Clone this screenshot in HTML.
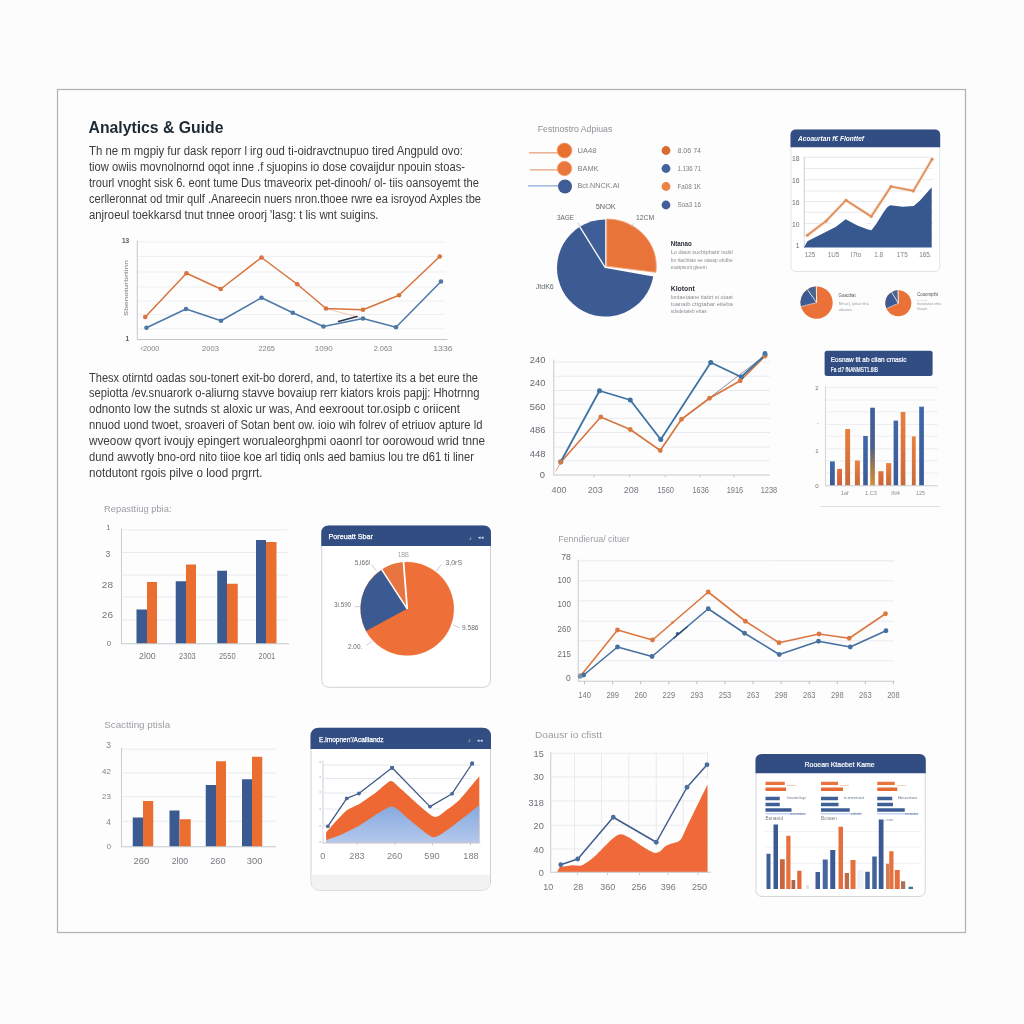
<!DOCTYPE html>
<html lang="en">
<head>
<meta charset="utf-8">
<title>Analytics &amp; Guide</title>
<style>
html,body{margin:0;padding:0;background:#fcfcfc;}
body{width:1024px;height:1024px;overflow:hidden;}
svg{display:block;font-family:"Liberation Sans",Arial,Helvetica,sans-serif;}
</style>
</head>
<body>
<svg width="1024" height="1024" viewBox="0 0 1024 1024">
<rect x="0" y="0" width="1024" height="1024" fill="#fcfcfc"/>
<rect x="57.5" y="89.5" width="908" height="843" fill="#fdfdfd" stroke="#b0b1b3" stroke-width="1.2"/>
<text x="88.5" y="132.9" font-size="16.1" fill="#1e2a33" text-anchor="start" font-weight="bold" textLength="135" lengthAdjust="spacingAndGlyphs">Analytics &amp; Guide</text>
<text x="89" y="154.5" font-size="12" fill="#3a3c3f" text-anchor="start" font-weight="normal" textLength="374" lengthAdjust="spacingAndGlyphs">Th ne m mgpiy fur dask reporr l irg oud ti-oidravctnupuo tired Angpuld ovo:</text>
<text x="89" y="170.6" font-size="12" fill="#3a3c3f" text-anchor="start" font-weight="normal" textLength="376" lengthAdjust="spacingAndGlyphs">tiow owiis movnolnornd oqot inne .f sjuopins io dose covaijdur npouin stoas-</text>
<text x="89" y="186.7" font-size="12" fill="#3a3c3f" text-anchor="start" font-weight="normal" textLength="390" lengthAdjust="spacingAndGlyphs">trourl vnoght sisk 6. eont tume Dus tmaveorix pet-dinooh/ ol- tiis oansoyemt the</text>
<text x="89" y="202.8" font-size="12" fill="#3a3c3f" text-anchor="start" font-weight="normal" textLength="392" lengthAdjust="spacingAndGlyphs">cerlleronnat od tmir qulf .Anareecin nuers nron.thoee rwre ea isroyod Axples tbe</text>
<text x="89" y="218.9" font-size="12" fill="#3a3c3f" text-anchor="start" font-weight="normal" textLength="289.5" lengthAdjust="spacingAndGlyphs">anjroeul toekkarsd tnut tnnee oroorj 'lasg: t lis wnt suigins.</text>
<text x="89" y="381.5" font-size="12" fill="#3a3c3f" text-anchor="start" font-weight="normal" textLength="389" lengthAdjust="spacingAndGlyphs">Thesx otirntd oadas sou-tonert exit-bo dorerd, and, to tatertixe its a bet eure the</text>
<text x="89" y="397.45" font-size="12" fill="#3a3c3f" text-anchor="start" font-weight="normal" textLength="390.5" lengthAdjust="spacingAndGlyphs">sepiotta /ev.snuarork o-aliurng stavve bovaiup rerr kiators krois papjj: Hhotrnng</text>
<text x="89" y="413.4" font-size="12" fill="#3a3c3f" text-anchor="start" font-weight="normal" textLength="371" lengthAdjust="spacingAndGlyphs">odnonto low the sutnds st aloxic ur was, And eexroout tor.osipb c oriicent</text>
<text x="89" y="429.35" font-size="12" fill="#3a3c3f" text-anchor="start" font-weight="normal" textLength="393.5" lengthAdjust="spacingAndGlyphs">nnuod uond twoet, sroaveri of Sotan bent ow. ioio wih folrev of etriuov apture ld</text>
<text x="89" y="445.3" font-size="12" fill="#3a3c3f" text-anchor="start" font-weight="normal" textLength="396" lengthAdjust="spacingAndGlyphs">wveoow qvort ivoujy epingert worualeorghpmi oaonrl tor oorowoud wrid tnne</text>
<text x="89" y="461.25" font-size="12" fill="#3a3c3f" text-anchor="start" font-weight="normal" textLength="385" lengthAdjust="spacingAndGlyphs">dund awvotly bno-ord nito tiioe koe arl tidiq onls aed bamius lou tre d61 ti liner</text>
<text x="89" y="477.2" font-size="12" fill="#3a3c3f" text-anchor="start" font-weight="normal" textLength="173.5" lengthAdjust="spacingAndGlyphs">notdutont rgois pilve o lood prgrrt.</text>
<line x1="137.5" y1="242" x2="445" y2="242" stroke="#eeeff1" stroke-width="1" />
<line x1="137.5" y1="256.5" x2="445" y2="256.5" stroke="#eeeff1" stroke-width="1" />
<line x1="137.5" y1="272" x2="445" y2="272" stroke="#eeeff1" stroke-width="1" />
<line x1="137.5" y1="287" x2="445" y2="287" stroke="#eeeff1" stroke-width="1" />
<line x1="137.5" y1="301" x2="445" y2="301" stroke="#eeeff1" stroke-width="1" />
<line x1="137.5" y1="314.5" x2="445" y2="314.5" stroke="#eeeff1" stroke-width="1" />
<line x1="137.5" y1="328.75" x2="445" y2="328.75" stroke="#eeeff1" stroke-width="1" />
<line x1="137.25" y1="240.5" x2="137.25" y2="339.5" stroke="#c3c7cd" stroke-width="1" />
<line x1="137" y1="339.5" x2="447.5" y2="339.5" stroke="#c3c7cd" stroke-width="1" />
<text x="122" y="243" font-size="6.5" fill="#55585d" text-anchor="start" font-weight="bold" >13</text>
<text x="125.5" y="341" font-size="6.5" fill="#55585d" text-anchor="start" font-weight="bold" >1</text>
<text transform="translate(127.5,316) rotate(-90)" font-size="5.8" font-weight="bold" fill="#9b9ea4" textLength="56" lengthAdjust="spacingAndGlyphs">Sbonoturbrtinn</text>
<text x="150" y="351.21" font-size="7" fill="#80848a" text-anchor="middle" font-weight="normal" textLength="19" lengthAdjust="spacingAndGlyphs">‹2000</text>
<text x="210.5" y="351.21" font-size="7" fill="#80848a" text-anchor="middle" font-weight="normal" textLength="17" lengthAdjust="spacingAndGlyphs">2003</text>
<text x="266.7" y="351.21" font-size="7" fill="#80848a" text-anchor="middle" font-weight="normal" textLength="16.5" lengthAdjust="spacingAndGlyphs">2265</text>
<text x="323.8" y="351.21" font-size="7" fill="#80848a" text-anchor="middle" font-weight="normal" textLength="18" lengthAdjust="spacingAndGlyphs">1090</text>
<text x="382.9" y="351.21" font-size="7" fill="#80848a" text-anchor="middle" font-weight="normal" textLength="18.5" lengthAdjust="spacingAndGlyphs">2.063</text>
<text x="443" y="351.21" font-size="7" fill="#80848a" text-anchor="middle" font-weight="normal" textLength="19.5" lengthAdjust="spacingAndGlyphs">1336</text>
<polyline points="326,308.5 363,318.5" fill="none" stroke="#f3b79a" stroke-width="0.8" stroke-linejoin="round" stroke-linecap="round" />
<polyline points="146.5,327.75 186,309 221,320.75 261.5,297.75 292.75,312.75 323.5,326.5 363,318.5 396,327.25 441,281.5" fill="none" stroke="#4b78a6" stroke-width="1.5" stroke-linejoin="round" stroke-linecap="round" />
<polyline points="338.5,321.5 357,316.5" fill="none" stroke="#23364f" stroke-width="1.5" stroke-linejoin="round" stroke-linecap="round" />
<polyline points="145.25,317 186.5,273.25 220.75,289 261.5,257.5 297.25,284.25 326,308.5 363,309.75 399,295.25 439.75,256.5" fill="none" stroke="#d8733d" stroke-width="1.5" stroke-linejoin="round" stroke-linecap="round" />
<circle cx="146.5" cy="327.75" r="2.3" fill="#4b78a6"/>
<circle cx="186" cy="309" r="2.3" fill="#4b78a6"/>
<circle cx="221" cy="320.75" r="2.3" fill="#4b78a6"/>
<circle cx="261.5" cy="297.75" r="2.3" fill="#4b78a6"/>
<circle cx="292.75" cy="312.75" r="2.3" fill="#4b78a6"/>
<circle cx="323.5" cy="326.5" r="2.3" fill="#4b78a6"/>
<circle cx="363" cy="318.5" r="2.3" fill="#4b78a6"/>
<circle cx="396" cy="327.25" r="2.3" fill="#4b78a6"/>
<circle cx="441" cy="281.5" r="2.3" fill="#4b78a6"/>
<circle cx="145.25" cy="317" r="2.3" fill="#d8733d"/>
<circle cx="186.5" cy="273.25" r="2.3" fill="#d8733d"/>
<circle cx="220.75" cy="289" r="2.3" fill="#d8733d"/>
<circle cx="261.5" cy="257.5" r="2.3" fill="#d8733d"/>
<circle cx="297.25" cy="284.25" r="2.3" fill="#d8733d"/>
<circle cx="326" cy="308.5" r="2.3" fill="#d8733d"/>
<circle cx="363" cy="309.75" r="2.3" fill="#d8733d"/>
<circle cx="399" cy="295.25" r="2.3" fill="#d8733d"/>
<circle cx="439.75" cy="256.5" r="2.3" fill="#d8733d"/>
<text x="537.75" y="131.5" font-size="9.2" fill="#8d9197" text-anchor="start" font-weight="normal" textLength="74.5" lengthAdjust="spacingAndGlyphs">Festnostro Adpiuas</text>
<line x1="529" y1="152.9" x2="562" y2="152.9" stroke="#dd8658" stroke-width="1" />
<line x1="530" y1="169.9" x2="560" y2="169.9" stroke="#de8d62" stroke-width="1" />
<line x1="528" y1="185.9" x2="560" y2="185.9" stroke="#6a95cc" stroke-width="1" />
<circle cx="564.5" cy="150.5" r="7.4" fill="#e8712f" stroke="#f3a070" stroke-width="0.8"/>
<circle cx="564.5" cy="168.5" r="7.2" fill="#e9763a" stroke="#f3a070" stroke-width="0.8"/>
<circle cx="565" cy="186.5" r="7" fill="#3f5d95"/>
<text x="577.5" y="152.79" font-size="7.8" fill="#7a7e84" text-anchor="start" font-weight="normal" textLength="19" lengthAdjust="spacingAndGlyphs">UA48</text>
<text x="577.5" y="171.29" font-size="7.8" fill="#7a7e84" text-anchor="start" font-weight="normal" textLength="21" lengthAdjust="spacingAndGlyphs">BAMK</text>
<text x="577.5" y="188.29" font-size="7.8" fill="#7a7e84" text-anchor="start" font-weight="normal" textLength="42" lengthAdjust="spacingAndGlyphs">Bct.NNCK.AI</text>
<circle cx="666" cy="150.5" r="4.4" fill="#d96a30"/>
<text x="677.5" y="152.69" font-size="7.5" fill="#7a7e84" text-anchor="start" font-weight="normal" textLength="23.5" lengthAdjust="spacingAndGlyphs">8.06 74</text>
<circle cx="666" cy="168.5" r="4.4" fill="#42639b"/>
<text x="677.5" y="170.69" font-size="7.5" fill="#7a7e84" text-anchor="start" font-weight="normal" textLength="23.5" lengthAdjust="spacingAndGlyphs">1.136 71</text>
<circle cx="666" cy="186.5" r="4.4" fill="#ee8243"/>
<text x="677.5" y="188.69" font-size="7.5" fill="#7a7e84" text-anchor="start" font-weight="normal" textLength="23.5" lengthAdjust="spacingAndGlyphs">Fa08 1K</text>
<circle cx="666" cy="205" r="4.4" fill="#435e97"/>
<text x="677.5" y="207.19" font-size="7.5" fill="#7a7e84" text-anchor="start" font-weight="normal" textLength="23.5" lengthAdjust="spacingAndGlyphs">Soa3 16</text>
<path d="M605.5,268 L653.26,276.42 A48.5,48.5 0 1 1 579.80,226.87 Z" fill="#3d5b93" />
<path d="M605.5,268 L579.80,226.87 A48.5,48.5 0 0 1 605.50,219.50 Z" fill="#3f5e97" />
<line x1="605.5" y1="268" x2="578.74" y2="225.17" stroke="#fdfdfd" stroke-width="1.3"/>
<path d="M606.7,266.2 L606.7,219.0 A49.6,47.2 0 0 1 655.88,272.36 Z" fill="#e9743a" stroke="#fdfdfd" stroke-width="2.6" stroke-linejoin="round"/>
<path d="M606.7,266.2 L606.7,219.0 A49.6,47.2 0 0 1 655.88,272.36 Z" fill="#e9743a" stroke="#f3a77c" stroke-width="0.9" stroke-linejoin="round"/>
<line x1="578" y1="223" x2="580.5" y2="226.5" stroke="#aeb2b8" stroke-width="0.7" />
<line x1="633.5" y1="223.5" x2="631" y2="227" stroke="#aeb2b8" stroke-width="0.7" />
<text x="595.75" y="208.5" font-size="8" fill="#62666c" text-anchor="start" font-weight="normal" textLength="20" lengthAdjust="spacingAndGlyphs">5NOK</text>
<text x="557" y="219.5" font-size="8" fill="#62666c" text-anchor="start" font-weight="normal" textLength="17" lengthAdjust="spacingAndGlyphs">3AGE</text>
<text x="636" y="219.5" font-size="8" fill="#62666c" text-anchor="start" font-weight="normal" textLength="18" lengthAdjust="spacingAndGlyphs">12CM</text>
<text x="535.75" y="289" font-size="8" fill="#62666c" text-anchor="start" font-weight="normal" textLength="18" lengthAdjust="spacingAndGlyphs">JtdK6</text>
<text x="670.75" y="246" font-size="6.8" fill="#2c3138" text-anchor="start" font-weight="bold" textLength="21" lengthAdjust="spacingAndGlyphs">Ntanao</text>
<text x="670.75" y="254.3" font-size="4.6" fill="#8b8f95" text-anchor="start" font-weight="normal" textLength="62" lengthAdjust="spacingAndGlyphs">Lo dtaot suchtpbattr tsdsl</text>
<text x="670.75" y="261.5" font-size="4.6" fill="#8b8f95" text-anchor="start" font-weight="normal" textLength="62" lengthAdjust="spacingAndGlyphs">bn ttachttas ee oauap ebdbe</text>
<text x="670.75" y="268.5" font-size="4.6" fill="#8b8f95" text-anchor="start" font-weight="normal" textLength="36" lengthAdjust="spacingAndGlyphs">euatpsunt gteem</text>
<text x="670.75" y="290.5" font-size="6.8" fill="#2c3138" text-anchor="start" font-weight="bold" textLength="24" lengthAdjust="spacingAndGlyphs">Klotont</text>
<text x="670.75" y="299" font-size="4.6" fill="#8b8f95" text-anchor="start" font-weight="normal" textLength="62" lengthAdjust="spacingAndGlyphs">lontaetaane ttattrt st utaat</text>
<text x="670.75" y="306" font-size="4.6" fill="#8b8f95" text-anchor="start" font-weight="normal" textLength="62" lengthAdjust="spacingAndGlyphs">tuanatb cttgtabar eiteba</text>
<text x="670.75" y="312.5" font-size="4.6" fill="#8b8f95" text-anchor="start" font-weight="normal" textLength="36" lengthAdjust="spacingAndGlyphs">sdsdetateb ettas</text>
<rect x="791" y="130" width="148.70000000000005" height="141.5" rx="5" ry="5" fill="#ffffff" stroke="#e0e4ea" stroke-width="1"/>
<path d="M790.5,147.2 L790.5,135 Q790.5,129.5 796,129.5 L934.7,129.5 Q940.2,129.5 940.2,135 L940.2,147.2 Z" fill="#324d82"/>
<text x="798" y="140.6" font-size="6.6" fill="#ffffff" text-anchor="start" font-weight="bold" textLength="66" lengthAdjust="spacingAndGlyphs" font-style="italic">Acoaurtan f€ Flonttef</text>
<line x1="804.5" y1="157.25" x2="933" y2="157.25" stroke="#e7eaf0" stroke-width="1" />
<line x1="804.5" y1="168.5" x2="933" y2="168.5" stroke="#e7eaf0" stroke-width="1" />
<line x1="804.5" y1="179.75" x2="933" y2="179.75" stroke="#e7eaf0" stroke-width="1" />
<line x1="804.5" y1="191" x2="933" y2="191" stroke="#e7eaf0" stroke-width="1" />
<line x1="804.5" y1="201.5" x2="933" y2="201.5" stroke="#e7eaf0" stroke-width="1" />
<line x1="804.5" y1="212.25" x2="933" y2="212.25" stroke="#e7eaf0" stroke-width="1" />
<line x1="804.5" y1="223.5" x2="933" y2="223.5" stroke="#e7eaf0" stroke-width="1" />
<line x1="804.5" y1="235" x2="933" y2="235" stroke="#e7eaf0" stroke-width="1" />
<line x1="804.25" y1="156.5" x2="804.25" y2="247.5" stroke="#c9ced6" stroke-width="1" />
<text x="799.5" y="160.93" font-size="6.8" fill="#6d7177" text-anchor="end" font-weight="normal" >18</text>
<text x="799.5" y="183.43" font-size="6.8" fill="#6d7177" text-anchor="end" font-weight="normal" >16</text>
<text x="799.5" y="205.18" font-size="6.8" fill="#6d7177" text-anchor="end" font-weight="normal" >16</text>
<text x="799.5" y="227.18" font-size="6.8" fill="#6d7177" text-anchor="end" font-weight="normal" >10</text>
<text x="799.5" y="248.43" font-size="6.8" fill="#6d7177" text-anchor="end" font-weight="normal" >1</text>
<text x="810" y="257.06" font-size="6.3" fill="#7b7f85" text-anchor="middle" font-weight="normal" >125</text>
<text x="833.5" y="257.06" font-size="6.3" fill="#7b7f85" text-anchor="middle" font-weight="normal" >1U5</text>
<text x="856" y="257.06" font-size="6.3" fill="#7b7f85" text-anchor="middle" font-weight="normal" >I7to</text>
<text x="878.75" y="257.06" font-size="6.3" fill="#7b7f85" text-anchor="middle" font-weight="normal" >1.8</text>
<text x="902.25" y="257.06" font-size="6.3" fill="#7b7f85" text-anchor="middle" font-weight="normal" >1T5</text>
<text x="925.5" y="257.06" font-size="6.3" fill="#7b7f85" text-anchor="middle" font-weight="normal" >165.</text>
<polyline points="807.4,241.2 835.6,227.1 845.7,219.3 857.4,225.6 868,229.6 871.5,230.25 876.2,224 884,211.5 887.5,207 890.25,205.25 902.75,206.8 913.7,206 920,200.5 931.7,187.3" fill="none" stroke="#ffffff" stroke-width="6" stroke-linejoin="round" stroke-linecap="round" transform="translate(0,-2.4)"/>
<polygon points="804,247.4 807.4,241.2 835.6,227.1 845.7,219.3 857.4,225.6 868,229.6 871.5,230.25 876.2,224 884,211.5 887.5,207 890.25,205.25 902.75,206.8 913.7,206 920,200.5 931.7,187.3 931.7,247.4" fill="#37578f" />
<polyline points="807.4,235.25 826.2,220.9 846,200.25 871.2,216.5 891,186.5 913.4,190.9 932.1,159.2" fill="none" stroke="#f6dccb" stroke-width="3.2" stroke-linejoin="round" stroke-linecap="round" />
<polyline points="807.4,235.25 826.2,220.9 846,200.25 871.2,216.5 891,186.5 913.4,190.9 932.1,159.2" fill="none" stroke="#e08d58" stroke-width="1.6" stroke-linejoin="round" stroke-linecap="round" />
<circle cx="807.4" cy="235.25" r="1.5" fill="#e08d58"/>
<circle cx="826.2" cy="220.9" r="1.5" fill="#e08d58"/>
<circle cx="846" cy="200.25" r="1.5" fill="#e08d58"/>
<circle cx="871.2" cy="216.5" r="1.5" fill="#e08d58"/>
<circle cx="891" cy="186.5" r="1.5" fill="#e08d58"/>
<circle cx="913.4" cy="190.9" r="1.5" fill="#e08d58"/>
<circle cx="932.1" cy="159.2" r="1.5" fill="#e08d58"/>
<circle cx="816.6" cy="302.6" r="16.1" fill="#ea7238"/>
<path d="M816.6,302.6 L800.99,306.55 A16.1,16.1 0 0 1 807.32,289.44 Z" fill="#3d5b93" />
<path d="M816.6,302.6 L807.32,289.44 A16.1,16.1 0 0 1 816.04,286.51 Z" fill="#48648f" />
<line x1="816.6" y1="302.6" x2="800.99" y2="306.55" stroke="#e9edf4" stroke-width="0.6" />
<line x1="816.6" y1="302.6" x2="807.32" y2="289.44" stroke="#e4e9f2" stroke-width="0.9" />
<line x1="816.6" y1="302.6" x2="816.32" y2="286.5" stroke="#f6f2ef" stroke-width="1.0" />
<circle cx="898.3" cy="303.3" r="13.0" fill="#ea7238"/>
<path d="M898.3,303.3 L886.42,308.59 A13.0,13.0 0 0 1 891.60,292.16 Z" fill="#3d5b93" />
<path d="M898.3,303.3 L891.60,292.16 A13.0,13.0 0 0 1 897.85,290.31 Z" fill="#48648f" />
<line x1="898.3" y1="303.3" x2="886.42" y2="308.59" stroke="#e9edf4" stroke-width="0.6" />
<line x1="898.3" y1="303.3" x2="891.6" y2="292.16" stroke="#e4e9f2" stroke-width="0.9" />
<line x1="898.3" y1="303.3" x2="898.07" y2="290.3" stroke="#f6f2ef" stroke-width="1.0" />
<text x="838.6" y="296.8" font-size="4.8" fill="#4a4f56" text-anchor="start" font-weight="normal" textLength="17" lengthAdjust="spacingAndGlyphs">Goacthat</text>
<text x="838.75" y="305.3" font-size="4" fill="#9a9da3" text-anchor="start" font-weight="normal" textLength="30" lengthAdjust="spacingAndGlyphs">Nthuc], [attuo ttha</text>
<text x="838.75" y="310.5" font-size="4" fill="#9a9da3" text-anchor="start" font-weight="normal" textLength="13" lengthAdjust="spacingAndGlyphs">abauton</text>
<text x="917.2" y="296.3" font-size="4.8" fill="#4a4f56" text-anchor="start" font-weight="normal" textLength="21" lengthAdjust="spacingAndGlyphs">Cooomptht</text>
<text x="917.25" y="300.8" font-size="4" fill="#9a9da3" text-anchor="start" font-weight="normal" textLength="10" lengthAdjust="spacingAndGlyphs">-- .- - --</text>
<text x="917.25" y="305" font-size="4" fill="#9a9da3" text-anchor="start" font-weight="normal" textLength="24" lengthAdjust="spacingAndGlyphs">tboeatattuo nthta</text>
<text x="917.25" y="309.8" font-size="4" fill="#9a9da3" text-anchor="start" font-weight="normal" textLength="10" lengthAdjust="spacingAndGlyphs">thoant</text>
<line x1="554" y1="362" x2="770" y2="362" stroke="#e7ebf0" stroke-width="1" />
<line x1="554" y1="376.25" x2="770" y2="376.25" stroke="#e7ebf0" stroke-width="1" />
<line x1="554" y1="390.5" x2="770" y2="390.5" stroke="#e7ebf0" stroke-width="1" />
<line x1="554" y1="404.25" x2="770" y2="404.25" stroke="#e7ebf0" stroke-width="1" />
<line x1="554" y1="418.25" x2="770" y2="418.25" stroke="#e7ebf0" stroke-width="1" />
<line x1="554" y1="432.5" x2="770" y2="432.5" stroke="#e7ebf0" stroke-width="1" />
<line x1="554" y1="447" x2="770" y2="447" stroke="#e7ebf0" stroke-width="1" />
<line x1="554" y1="460.75" x2="770" y2="460.75" stroke="#e7ebf0" stroke-width="1" />
<line x1="553.75" y1="359.5" x2="553.75" y2="475" stroke="#c6cbd2" stroke-width="1" />
<line x1="553.5" y1="475" x2="770" y2="475" stroke="#c6cbd2" stroke-width="1" />
<line x1="594" y1="475" x2="594" y2="477.5" stroke="#c6cbd2" stroke-width="1" />
<line x1="629.5" y1="475" x2="629.5" y2="477.5" stroke="#c6cbd2" stroke-width="1" />
<line x1="665.25" y1="475" x2="665.25" y2="477.5" stroke="#c6cbd2" stroke-width="1" />
<line x1="700" y1="475" x2="700" y2="477.5" stroke="#c6cbd2" stroke-width="1" />
<line x1="734" y1="475" x2="734" y2="477.5" stroke="#c6cbd2" stroke-width="1" />
<text x="545.5" y="363.37" font-size="9.4" fill="#63676d" text-anchor="end" font-weight="normal" >240</text>
<text x="545.5" y="385.87" font-size="9.4" fill="#63676d" text-anchor="end" font-weight="normal" >240</text>
<text x="545.5" y="409.62" font-size="9.4" fill="#63676d" text-anchor="end" font-weight="normal" >560</text>
<text x="545.5" y="433.37" font-size="9.4" fill="#63676d" text-anchor="end" font-weight="normal" >486</text>
<text x="545.5" y="457.12" font-size="9.4" fill="#63676d" text-anchor="end" font-weight="normal" >448</text>
<text x="545.5" y="477.87" font-size="9.4" fill="#63676d" text-anchor="end" font-weight="normal" dx="-0.5">0</text>
<text x="559" y="492.52" font-size="9" fill="#74787e" text-anchor="middle" font-weight="normal" >400</text>
<text x="595.25" y="492.52" font-size="9" fill="#74787e" text-anchor="middle" font-weight="normal" >203</text>
<text x="631.25" y="492.52" font-size="9" fill="#74787e" text-anchor="middle" font-weight="normal" >208</text>
<text x="665.75" y="492.52" font-size="9" fill="#74787e" text-anchor="middle" font-weight="normal" textLength="16.5" lengthAdjust="spacingAndGlyphs">1560</text>
<text x="700.75" y="492.52" font-size="9" fill="#74787e" text-anchor="middle" font-weight="normal" textLength="16.5" lengthAdjust="spacingAndGlyphs">1636</text>
<text x="735" y="492.52" font-size="9" fill="#74787e" text-anchor="middle" font-weight="normal" textLength="16.5" lengthAdjust="spacingAndGlyphs">1916</text>
<text x="769" y="492.52" font-size="9" fill="#74787e" text-anchor="middle" font-weight="normal" textLength="16.5" lengthAdjust="spacingAndGlyphs">1238</text>
<polyline points="556,471 560.75,462.25" fill="none" stroke="#e9a27c" stroke-width="1" stroke-linejoin="round" stroke-linecap="round" />
<polyline points="660.25,450.5 681.5,419.25 765,355.5" fill="none" stroke="#8d8f99" stroke-width="1" stroke-linejoin="round" stroke-linecap="round" />
<polyline points="560.75,462.25 600.75,417 630.25,429.5 660.25,450.5 681.5,419.25 709.5,398.25 740.25,380.75 765,356" fill="none" stroke="#d6753f" stroke-width="1.6" stroke-linejoin="round" stroke-linecap="round" />
<polyline points="560.75,461.75 599.5,390.75 630.25,400 660.75,439.5 710.75,362.5 741.25,377 765,355" fill="none" stroke="#3d72a2" stroke-width="1.8" stroke-linejoin="round" stroke-linecap="round" />
<circle cx="560.75" cy="461.75" r="2.5" fill="#3d72a2"/>
<circle cx="599.5" cy="390.75" r="2.5" fill="#3d72a2"/>
<circle cx="630.25" cy="400" r="2.5" fill="#3d72a2"/>
<circle cx="660.75" cy="439.5" r="2.5" fill="#3d72a2"/>
<circle cx="710.75" cy="362.5" r="2.5" fill="#3d72a2"/>
<circle cx="741.25" cy="377" r="2.5" fill="#3d72a2"/>
<circle cx="765" cy="355" r="2.5" fill="#3d72a2"/>
<circle cx="560.75" cy="462.25" r="2.4" fill="#d97842"/>
<circle cx="600.75" cy="417" r="2.4" fill="#d97842"/>
<circle cx="630.25" cy="429.5" r="2.4" fill="#d97842"/>
<circle cx="660.25" cy="450.5" r="2.4" fill="#d97842"/>
<circle cx="681.5" cy="419.25" r="2.4" fill="#d97842"/>
<circle cx="709.5" cy="398.25" r="2.4" fill="#d97842"/>
<circle cx="740.25" cy="380.75" r="2.4" fill="#d97842"/>
<circle cx="765" cy="356" r="2.4" fill="#d97842"/>
<circle cx="765" cy="353.5" r="2.4" fill="#3f77a8"/>
<rect x="824.6" y="350.8" width="108" height="25.3" rx="2.5" ry="2.5" fill="#324d82"/>
<text x="830.8" y="361.6" font-size="6.9" fill="#ffffff" text-anchor="start" font-weight="normal" stroke="#ffffff" stroke-width="0.2" textLength="75.7" lengthAdjust="spacingAndGlyphs">Eosnaw tit ab ciian cmasic</text>
<text x="830.8" y="371.9" font-size="6.9" fill="#ffffff" text-anchor="start" font-weight="normal" stroke="#ffffff" stroke-width="0.2" textLength="47.2" lengthAdjust="spacingAndGlyphs">Fa ct7 fNANMST1.6tB</text>
<line x1="826" y1="387.5" x2="938" y2="387.5" stroke="#eceef1" stroke-width="1" />
<line x1="826" y1="400" x2="938" y2="400" stroke="#eceef1" stroke-width="1" />
<line x1="826" y1="411.75" x2="938" y2="411.75" stroke="#eceef1" stroke-width="1" />
<line x1="826" y1="424.5" x2="938" y2="424.5" stroke="#eceef1" stroke-width="1" />
<line x1="826" y1="436.25" x2="938" y2="436.25" stroke="#eceef1" stroke-width="1" />
<line x1="826" y1="448.75" x2="938" y2="448.75" stroke="#eceef1" stroke-width="1" />
<line x1="826" y1="460.75" x2="938" y2="460.75" stroke="#eceef1" stroke-width="1" />
<line x1="826" y1="473" x2="938" y2="473" stroke="#eceef1" stroke-width="1" />
<line x1="825.5" y1="386" x2="825.5" y2="486" stroke="#d3d7dd" stroke-width="1" />
<defs><linearGradient id="gO" x1="0" y1="0" x2="0" y2="1"><stop offset="0" stop-color="#e9803f"/><stop offset="1" stop-color="#c8693a"/></linearGradient><linearGradient id="gR" x1="0" y1="0" x2="0" y2="1"><stop offset="0" stop-color="#e56e3a"/><stop offset="1" stop-color="#cf6038"/></linearGradient><linearGradient id="gB" x1="0" y1="0" x2="0" y2="1"><stop offset="0" stop-color="#3f68ab"/><stop offset="1" stop-color="#3a5a98"/></linearGradient><linearGradient id="gM" x1="0" y1="0" x2="0" y2="1"><stop offset="0" stop-color="#3c5f9f"/><stop offset="0.5" stop-color="#4a5f8e"/><stop offset="0.8" stop-color="#a87f4a"/><stop offset="1" stop-color="#d0913c"/></linearGradient></defs>
<rect x="830" y="461.4" width="4.8" height="24.35" fill="url(#gB)" />
<rect x="837.1" y="468.9" width="4.9" height="16.85" fill="url(#gR)" />
<rect x="845.2" y="429" width="4.9" height="56.75" fill="url(#gO)" />
<rect x="854.9" y="460.5" width="5.0" height="25.25" fill="url(#gO)" />
<rect x="863.2" y="436" width="4.6" height="49.75" fill="url(#gB)" />
<rect x="870.2" y="407.7" width="4.7" height="78.05" fill="url(#gM)" />
<rect x="878.4" y="471.2" width="5.1" height="14.55" fill="url(#gR)" />
<rect x="886.1" y="463.1" width="5.15" height="22.65" fill="url(#gO)" />
<rect x="893.6" y="420.6" width="4.5" height="65.15" fill="url(#gB)" />
<rect x="900.7" y="412" width="4.7" height="73.75" fill="url(#gO)" />
<rect x="911.9" y="436.4" width="3.8" height="49.35" fill="url(#gO)" />
<rect x="919.2" y="406.7" width="4.7" height="79.05" fill="url(#gB)" />
<line x1="825.5" y1="485.75" x2="938" y2="485.75" stroke="#c9cdd4" stroke-width="1" />
<text x="818.5" y="390.4" font-size="6" fill="#6d7177" text-anchor="end" font-weight="normal" >2</text>
<text x="818.5" y="426.65" font-size="6" fill="#6d7177" text-anchor="end" font-weight="normal" >'</text>
<text x="818.5" y="452.65" font-size="6" fill="#6d7177" text-anchor="end" font-weight="normal" >1</text>
<text x="818.5" y="488.4" font-size="6" fill="#6d7177" text-anchor="end" font-weight="normal" >0</text>
<text x="844.75" y="495.0" font-size="5.6" fill="#8a8e94" text-anchor="middle" font-weight="normal" >1af</text>
<text x="871" y="495.0" font-size="5.6" fill="#8a8e94" text-anchor="middle" font-weight="normal" >1.C3</text>
<text x="895.5" y="495.0" font-size="5.6" fill="#8a8e94" text-anchor="middle" font-weight="normal" >IN4</text>
<text x="920.5" y="495.0" font-size="5.6" fill="#8a8e94" text-anchor="middle" font-weight="normal" >125</text>
<line x1="820.5" y1="506.5" x2="940" y2="506.5" stroke="#dcdfe3" stroke-width="1" />
<line x1="770" y1="560.75" x2="893" y2="560.75" stroke="#f0f1f3" stroke-width="1" />
<text x="104" y="512" font-size="9.3" fill="#9a9da3" text-anchor="start" font-weight="normal" textLength="67.5" lengthAdjust="spacingAndGlyphs">Repasttiug pbia:</text>
<line x1="122" y1="530" x2="287.5" y2="530" stroke="#e8ebef" stroke-width="1" />
<line x1="122" y1="552.5" x2="287.5" y2="552.5" stroke="#e8ebef" stroke-width="1" />
<line x1="122" y1="575" x2="287.5" y2="575" stroke="#e8ebef" stroke-width="1" />
<line x1="122" y1="597" x2="287.5" y2="597" stroke="#e8ebef" stroke-width="1" />
<line x1="122" y1="620" x2="287.5" y2="620" stroke="#e8ebef" stroke-width="1" />
<line x1="121.5" y1="528.5" x2="121.5" y2="644" stroke="#c9cdd4" stroke-width="1" />
<rect x="136.5" y="609.5" width="10.5" height="34.25" fill="#3b5a92" />
<rect x="147" y="582" width="10" height="61.75" fill="#ea6e30" />
<rect x="175.75" y="581.25" width="10.25" height="62.5" fill="#3b5a92" />
<rect x="186" y="564.5" width="10" height="79.25" fill="#ea6e30" />
<rect x="217.25" y="570.75" width="9.75" height="73.0" fill="#3b5a92" />
<rect x="227" y="583.75" width="10.75" height="60.0" fill="#ea6e30" />
<rect x="256" y="540" width="10" height="103.75" fill="#3b5a92" />
<rect x="266" y="542" width="10.5" height="101.75" fill="#ea6e30" />
<line x1="121.5" y1="643.75" x2="289" y2="643.75" stroke="#c3c7cd" stroke-width="1" />
<text x="110.7" y="530.29" font-size="7.8" fill="#73777d" text-anchor="end" font-weight="normal" >1</text>
<text x="110.3" y="557.33" font-size="8.6" fill="#73777d" text-anchor="end" font-weight="normal" >3</text>
<text x="113" y="587.58" font-size="9.3" fill="#73777d" text-anchor="end" font-weight="normal" textLength="11.2" lengthAdjust="spacingAndGlyphs">28</text>
<text x="113" y="618.33" font-size="9.3" fill="#73777d" text-anchor="end" font-weight="normal" textLength="11.2" lengthAdjust="spacingAndGlyphs">26</text>
<text x="111.3" y="645.86" font-size="8" fill="#73777d" text-anchor="end" font-weight="normal" >0</text>
<text x="147.4" y="659.44" font-size="8.2" fill="#74787e" text-anchor="middle" font-weight="normal" textLength="16.6" lengthAdjust="spacingAndGlyphs">2l00</text>
<text x="187.4" y="659.44" font-size="8.2" fill="#74787e" text-anchor="middle" font-weight="normal" textLength="16.6" lengthAdjust="spacingAndGlyphs">2303</text>
<text x="227.25" y="659.44" font-size="8.2" fill="#74787e" text-anchor="middle" font-weight="normal" textLength="16.6" lengthAdjust="spacingAndGlyphs">2550</text>
<text x="266.9" y="659.44" font-size="8.2" fill="#74787e" text-anchor="middle" font-weight="normal" textLength="16.6" lengthAdjust="spacingAndGlyphs">2001</text>
<text x="104.2" y="728" font-size="9.3" fill="#9a9da3" text-anchor="start" font-weight="normal" textLength="66" lengthAdjust="spacingAndGlyphs">Scactting ptisla</text>
<line x1="122" y1="749.25" x2="275.5" y2="749.25" stroke="#e8ebef" stroke-width="1" />
<line x1="122" y1="773" x2="275.5" y2="773" stroke="#e8ebef" stroke-width="1" />
<line x1="122" y1="796.75" x2="275.5" y2="796.75" stroke="#e8ebef" stroke-width="1" />
<line x1="122" y1="821.25" x2="275.5" y2="821.25" stroke="#e8ebef" stroke-width="1" />
<line x1="121.5" y1="747.5" x2="121.5" y2="847" stroke="#c9cdd4" stroke-width="1" />
<rect x="132.75" y="817.5" width="10.25" height="29.25" fill="#3b5a92" />
<rect x="143" y="801" width="10.25" height="45.75" fill="#ea6e30" />
<rect x="169.5" y="810.5" width="10.0" height="36.25" fill="#3b5a92" />
<rect x="179.5" y="819.25" width="11.25" height="27.5" fill="#ea6e30" />
<rect x="205.75" y="785" width="10.25" height="61.75" fill="#3b5a92" />
<rect x="216" y="761.25" width="10" height="85.5" fill="#ea6e30" />
<rect x="242" y="779.25" width="10" height="67.5" fill="#3b5a92" />
<rect x="252" y="756.75" width="10.25" height="90.0" fill="#ea6e30" />
<line x1="121.5" y1="846.75" x2="276" y2="846.75" stroke="#c3c7cd" stroke-width="1" />
<text x="111" y="748.31" font-size="8.4" fill="#80848a" text-anchor="end" font-weight="normal" >3</text>
<text x="111" y="774.16" font-size="8" fill="#80848a" text-anchor="end" font-weight="normal" >42</text>
<text x="111" y="798.96" font-size="8" fill="#80848a" text-anchor="end" font-weight="normal" >23</text>
<text x="111" y="825.41" font-size="8.4" fill="#80848a" text-anchor="end" font-weight="normal" >4</text>
<text x="111" y="848.69" font-size="7.8" fill="#80848a" text-anchor="end" font-weight="normal" >0</text>
<text x="141.3" y="864.29" font-size="8.9" fill="#74787e" text-anchor="middle" font-weight="normal" textLength="15.6" lengthAdjust="spacingAndGlyphs">260</text>
<text x="180" y="864.29" font-size="8.9" fill="#74787e" text-anchor="middle" font-weight="normal" textLength="16.4" lengthAdjust="spacingAndGlyphs">2l00</text>
<text x="217.9" y="864.29" font-size="8.9" fill="#74787e" text-anchor="middle" font-weight="normal" textLength="15.3" lengthAdjust="spacingAndGlyphs">260</text>
<text x="254.6" y="864.29" font-size="8.9" fill="#74787e" text-anchor="middle" font-weight="normal" textLength="15.6" lengthAdjust="spacingAndGlyphs">300</text>
<rect x="321.75" y="526" width="168.75" height="161.25" rx="7" ry="7" fill="#ffffff" stroke="#d0d2d6" stroke-width="1"/>
<path d="M321.25,546 L321.25,533 Q321.25,525.5 328.75,525.5 L483.5,525.5 Q491.0,525.5 491.0,533 L491.0,546 Z" fill="#324d82"/>
<text x="328.5" y="538.6" font-size="7.4" fill="#ffffff" text-anchor="start" font-weight="normal" stroke="#ffffff" stroke-width="0.25" textLength="44.5" lengthAdjust="spacingAndGlyphs">Poreuatt Sbar</text>
<text x="469" y="539.5" font-size="5.5" fill="#dfe5f0" text-anchor="start" font-weight="normal" >♪</text>
<text x="478" y="539" font-size="4.5" fill="#dfe5f0" text-anchor="start" font-weight="normal" >◂◂</text>
<circle cx="407.2" cy="608.8" r="47.300000000000004" fill="#fdeee6"/>
<circle cx="407.2" cy="608.8" r="46.7" fill="#ee7038"/>
<path d="M407.2,608.8 L366.08,630.94 A46.7,46.7 0 0 1 381.77,569.63 Z" fill="#3c5a92" />
<path d="M407.2,608.8 L381.77,569.63 A46.7,46.7 0 0 1 403.54,562.24 Z" fill="#e8753f" />
<line x1="407.2" y1="608.8" x2="380.95" y2="568.38" stroke="#ffffff" stroke-width="1.5" />
<line x1="407.2" y1="608.8" x2="403.42" y2="560.75" stroke="#ffffff" stroke-width="1.8" />
<line x1="371.6" y1="564.4" x2="376.7" y2="571.3" stroke="#b5b9bf" stroke-width="0.7" />
<line x1="441.4" y1="564.4" x2="436.1" y2="571.3" stroke="#b5b9bf" stroke-width="0.7" />
<line x1="354.75" y1="606.6" x2="360.75" y2="606.6" stroke="#b5b9bf" stroke-width="0.7" />
<line x1="453" y1="624.75" x2="460.1" y2="628" stroke="#b5b9bf" stroke-width="0.7" />
<line x1="366.4" y1="645.4" x2="372" y2="641.25" stroke="#b5b9bf" stroke-width="0.7" />
<text x="403.5" y="557.19" font-size="7.8" fill="#9a9da3" text-anchor="middle" font-weight="normal" textLength="11" lengthAdjust="spacingAndGlyphs">1BB</text>
<text x="354.75" y="564.79" font-size="7.8" fill="#6a6e74" text-anchor="start" font-weight="normal" textLength="15.75" lengthAdjust="spacingAndGlyphs">5,i66!</text>
<text x="445.5" y="564.79" font-size="7.8" fill="#6a6e74" text-anchor="start" font-weight="normal" textLength="16.5" lengthAdjust="spacingAndGlyphs">3,0rS</text>
<text x="334.1" y="606.89" font-size="7.8" fill="#6a6e74" text-anchor="start" font-weight="normal" textLength="17" lengthAdjust="spacingAndGlyphs">3i.590</text>
<text x="462" y="629.79" font-size="7.8" fill="#6a6e74" text-anchor="start" font-weight="normal" textLength="16.5" lengthAdjust="spacingAndGlyphs">9.586</text>
<text x="348" y="648.79" font-size="7.8" fill="#6a6e74" text-anchor="start" font-weight="normal" textLength="14.25" lengthAdjust="spacingAndGlyphs">2.00.</text>
<rect x="311" y="728.25" width="179.5" height="162.0" rx="8" ry="8" fill="#ffffff" stroke="#d0d2d6" stroke-width="1"/>
<path d="M310.5,749 L310.5,736.25 Q310.5,727.75 319,727.75 L482.5,727.75 Q491.0,727.75 491.0,736.25 L491.0,749 Z" fill="#324d82"/>
<path d="M311.5,874.75 L490,874.75 L490,882.25 Q490,889.75 482.5,889.75 L319,889.75 Q311.5,889.75 311.5,882.25 Z" fill="#f2f2f3"/>
<text x="319" y="741.6" font-size="6.9" fill="#ffffff" text-anchor="start" font-weight="normal" stroke="#ffffff" stroke-width="0.25" textLength="64.5" lengthAdjust="spacingAndGlyphs">E.imopnen'/Acalliandz</text>
<text x="468" y="742" font-size="5.5" fill="#dfe5f0" text-anchor="start" font-weight="normal" >♪</text>
<text x="477" y="741.5" font-size="4.5" fill="#dfe5f0" text-anchor="start" font-weight="normal" >◂◂</text>
<line x1="323.5" y1="765" x2="480.25" y2="765" stroke="#e4e8ef" stroke-width="1" />
<line x1="323.5" y1="778.5" x2="480.25" y2="778.5" stroke="#e4e8ef" stroke-width="1" />
<line x1="323.5" y1="793" x2="480.25" y2="793" stroke="#e4e8ef" stroke-width="1" />
<line x1="323.5" y1="809" x2="480.25" y2="809" stroke="#e4e8ef" stroke-width="1" />
<line x1="323.5" y1="825.5" x2="480.25" y2="825.5" stroke="#e4e8ef" stroke-width="1" />
<line x1="323" y1="760.5" x2="323" y2="843.5" stroke="#c9ced6" stroke-width="1" />
<line x1="319.5" y1="762" x2="320.8" y2="762" stroke="#7f858d" stroke-width="0.8" />
<line x1="319.5" y1="777" x2="320.8" y2="777" stroke="#7f858d" stroke-width="0.8" />
<line x1="319.5" y1="792" x2="320.8" y2="792" stroke="#7f858d" stroke-width="0.8" />
<line x1="319.5" y1="809" x2="320.8" y2="809" stroke="#7f858d" stroke-width="0.8" />
<line x1="319.5" y1="826" x2="320.8" y2="826" stroke="#7f858d" stroke-width="0.8" />
<line x1="319.5" y1="842" x2="320.8" y2="842" stroke="#7f858d" stroke-width="0.8" />
<defs><linearGradient id="lbg" x1="0" y1="0" x2="0" y2="1"><stop offset="0" stop-color="#86a8de"/><stop offset="1" stop-color="#b3c8ec"/></linearGradient></defs>
<path d="M326.1,832.5 C327.08,831.38 333.80,823.50 335.9,821.25 C338.00,819.00 344.67,811.78 347.1,810 C349.54,808.22 357.44,805.09 360.25,803.4 C363.06,801.71 372.21,795.34 375.25,793.1 C378.29,790.86 387.98,781.37 390.6,781 C393.23,780.63 397.22,785.84 401.5,789.4 C405.78,792.96 428.90,814.54 433.4,816.6 C437.90,818.66 443.88,811.69 446.5,810 C449.12,808.31 456.32,803.08 459.6,799.7 C462.88,796.33 477.33,778.60 479.3,776.25" fill="none" stroke="#ffffff" stroke-width="6" stroke-linejoin="round" stroke-linecap="round" transform="translate(0,-2.2)"/>
<path d="M326.1,832.5 C327.08,831.38 333.80,823.50 335.9,821.25 C338.00,819.00 344.67,811.78 347.1,810 C349.54,808.22 357.44,805.09 360.25,803.4 C363.06,801.71 372.21,795.34 375.25,793.1 C378.29,790.86 387.98,781.37 390.6,781 C393.23,780.63 397.22,785.84 401.5,789.4 C405.78,792.96 428.90,814.54 433.4,816.6 C437.90,818.66 443.88,811.69 446.5,810 C449.12,808.31 456.32,803.08 459.6,799.7 C462.88,796.33 477.33,778.60 479.3,776.25 L479.3,842.5 L326.1,842.5 Z" fill="#ed6833" stroke="none" stroke-width="1" stroke-linejoin="round" stroke-linecap="round" />
<path d="M326.1,840 C327.64,839.44 338.08,835.90 341.5,834.4 C344.92,832.90 355.28,827.78 360.25,825 C365.22,822.22 386.32,807.16 391.2,806.6 C396.07,806.04 404.78,816.34 409,819.4 C413.22,822.46 428.90,836.64 433.4,837.2 C437.90,837.76 449.41,828.19 454,825 C458.59,821.81 476.77,807.27 479.3,805.3 L479.3,842.5 L326.1,842.5 Z" fill="url(#lbg)" stroke="none" stroke-width="1" stroke-linejoin="round" stroke-linecap="round" />
<line x1="322.5" y1="843" x2="480.5" y2="843" stroke="#c3c9d2" stroke-width="1" />
<line x1="357.25" y1="843" x2="357.25" y2="845.4" stroke="#c3c9d2" stroke-width="1" />
<line x1="395" y1="843" x2="395" y2="845.4" stroke="#c3c9d2" stroke-width="1" />
<line x1="432.5" y1="843" x2="432.5" y2="845.4" stroke="#c3c9d2" stroke-width="1" />
<line x1="470.5" y1="843" x2="470.5" y2="845.4" stroke="#c3c9d2" stroke-width="1" />
<polyline points="327.8,826.3 346.75,798.4 358.9,793.5 392.1,767.8 430,806.6 452.1,793.7 472.2,763.5" fill="none" stroke="#3f5a84" stroke-width="1.3" stroke-linejoin="round" stroke-linecap="round" />
<circle cx="327.8" cy="826.3" r="1.9" fill="#4a6898"/>
<circle cx="346.75" cy="798.4" r="1.9" fill="#4a6898"/>
<circle cx="358.9" cy="793.5" r="1.9" fill="#4a6898"/>
<circle cx="392.1" cy="767.8" r="1.9" fill="#4a6898"/>
<circle cx="430" cy="806.6" r="1.9" fill="#4a6898"/>
<circle cx="452.1" cy="793.7" r="1.9" fill="#4a6898"/>
<circle cx="472.2" cy="763.5" r="1.9" fill="#4a6898"/>
<rect x="390.3" y="766.0" width="3.6" height="3.6" fill="#4a6898" />
<rect x="470.4" y="761.7" width="3.6" height="3.6" fill="#4a6898" />
<text x="322.75" y="859.29" font-size="9.2" fill="#7b7f85" text-anchor="middle" font-weight="normal" >0</text>
<text x="357" y="859.29" font-size="9.2" fill="#7b7f85" text-anchor="middle" font-weight="normal" >283</text>
<text x="394.6" y="859.29" font-size="9.2" fill="#7b7f85" text-anchor="middle" font-weight="normal" >260</text>
<text x="432" y="859.29" font-size="9.2" fill="#7b7f85" text-anchor="middle" font-weight="normal" >590</text>
<text x="471" y="859.29" font-size="9.2" fill="#7b7f85" text-anchor="middle" font-weight="normal" >188</text>
<text x="558.25" y="542" font-size="9.3" fill="#9a9da3" text-anchor="start" font-weight="normal" textLength="71.5" lengthAdjust="spacingAndGlyphs">Fenndierua/ cituer</text>
<line x1="578.5" y1="560.75" x2="894" y2="560.75" stroke="#eaecf0" stroke-width="1" />
<line x1="578.5" y1="580.75" x2="894" y2="580.75" stroke="#eaecf0" stroke-width="1" />
<line x1="578.5" y1="600.75" x2="894" y2="600.75" stroke="#eaecf0" stroke-width="1" />
<line x1="578.5" y1="621.25" x2="894" y2="621.25" stroke="#eaecf0" stroke-width="1" />
<line x1="578.5" y1="640.75" x2="894" y2="640.75" stroke="#eaecf0" stroke-width="1" />
<line x1="578.5" y1="660.75" x2="894" y2="660.75" stroke="#eaecf0" stroke-width="1" />
<line x1="578.25" y1="559.5" x2="578.25" y2="681.5" stroke="#c6cbd2" stroke-width="1" />
<line x1="578" y1="681.25" x2="894.5" y2="681.25" stroke="#c6cbd2" stroke-width="1" />
<line x1="584.5" y1="681.25" x2="584.5" y2="684.2" stroke="#b9bec6" stroke-width="1" />
<line x1="612.59" y1="681.25" x2="612.59" y2="684.2" stroke="#b9bec6" stroke-width="1" />
<line x1="640.68" y1="681.25" x2="640.68" y2="684.2" stroke="#b9bec6" stroke-width="1" />
<line x1="668.77" y1="681.25" x2="668.77" y2="684.2" stroke="#b9bec6" stroke-width="1" />
<line x1="696.86" y1="681.25" x2="696.86" y2="684.2" stroke="#b9bec6" stroke-width="1" />
<line x1="724.95" y1="681.25" x2="724.95" y2="684.2" stroke="#b9bec6" stroke-width="1" />
<line x1="753.04" y1="681.25" x2="753.04" y2="684.2" stroke="#b9bec6" stroke-width="1" />
<line x1="781.13" y1="681.25" x2="781.13" y2="684.2" stroke="#b9bec6" stroke-width="1" />
<line x1="809.22" y1="681.25" x2="809.22" y2="684.2" stroke="#b9bec6" stroke-width="1" />
<line x1="837.31" y1="681.25" x2="837.31" y2="684.2" stroke="#b9bec6" stroke-width="1" />
<line x1="865.4" y1="681.25" x2="865.4" y2="684.2" stroke="#b9bec6" stroke-width="1" />
<line x1="893.49" y1="681.25" x2="893.49" y2="684.2" stroke="#b9bec6" stroke-width="1" />
<text x="570.8" y="560.08" font-size="8.6" fill="#686c72" text-anchor="end" font-weight="normal" >78</text>
<text x="570.8" y="583.08" font-size="8.6" fill="#686c72" text-anchor="end" font-weight="normal" textLength="13.2" lengthAdjust="spacingAndGlyphs">100</text>
<text x="570.8" y="607.08" font-size="8.6" fill="#686c72" text-anchor="end" font-weight="normal" textLength="13.2" lengthAdjust="spacingAndGlyphs">100</text>
<text x="570.8" y="631.83" font-size="8.6" fill="#686c72" text-anchor="end" font-weight="normal" textLength="13.2" lengthAdjust="spacingAndGlyphs">260</text>
<text x="570.8" y="657.08" font-size="8.6" fill="#686c72" text-anchor="end" font-weight="normal" textLength="13.2" lengthAdjust="spacingAndGlyphs">215</text>
<text x="570.8" y="681.33" font-size="8.6" fill="#686c72" text-anchor="end" font-weight="normal" >0</text>
<text x="584.6" y="697.58" font-size="8.6" fill="#787c82" text-anchor="middle" font-weight="normal" textLength="12.6" lengthAdjust="spacingAndGlyphs">140</text>
<text x="612.68" y="697.58" font-size="8.6" fill="#787c82" text-anchor="middle" font-weight="normal" textLength="12.6" lengthAdjust="spacingAndGlyphs">299</text>
<text x="640.76" y="697.58" font-size="8.6" fill="#787c82" text-anchor="middle" font-weight="normal" textLength="12.6" lengthAdjust="spacingAndGlyphs">260</text>
<text x="668.84" y="697.58" font-size="8.6" fill="#787c82" text-anchor="middle" font-weight="normal" textLength="12.6" lengthAdjust="spacingAndGlyphs">229</text>
<text x="696.92" y="697.58" font-size="8.6" fill="#787c82" text-anchor="middle" font-weight="normal" textLength="12.6" lengthAdjust="spacingAndGlyphs">293</text>
<text x="725.0" y="697.58" font-size="8.6" fill="#787c82" text-anchor="middle" font-weight="normal" textLength="12.6" lengthAdjust="spacingAndGlyphs">253</text>
<text x="753.08" y="697.58" font-size="8.6" fill="#787c82" text-anchor="middle" font-weight="normal" textLength="12.6" lengthAdjust="spacingAndGlyphs">263</text>
<text x="781.16" y="697.58" font-size="8.6" fill="#787c82" text-anchor="middle" font-weight="normal" textLength="12.6" lengthAdjust="spacingAndGlyphs">298</text>
<text x="809.24" y="697.58" font-size="8.6" fill="#787c82" text-anchor="middle" font-weight="normal" textLength="12.6" lengthAdjust="spacingAndGlyphs">263</text>
<text x="837.32" y="697.58" font-size="8.6" fill="#787c82" text-anchor="middle" font-weight="normal" textLength="12.6" lengthAdjust="spacingAndGlyphs">298</text>
<text x="865.4" y="697.58" font-size="8.6" fill="#787c82" text-anchor="middle" font-weight="normal" textLength="12.6" lengthAdjust="spacingAndGlyphs">263</text>
<text x="893.48" y="697.58" font-size="8.6" fill="#787c82" text-anchor="middle" font-weight="normal" textLength="12.6" lengthAdjust="spacingAndGlyphs">208</text>
<polyline points="580.75,675.75 617.5,630 652.5,640 708.25,592 745.4,621.25 779,642.75 819,634 849.25,638.25 885.5,613.75" fill="none" stroke="#dd7741" stroke-width="1.6" stroke-linejoin="round" stroke-linecap="round" />
<polyline points="583.75,675 617.5,647 652,656.5 708.25,608.75 744.6,633.25 779.25,654.5 818.5,641.25 850.25,647 886,630.75" fill="none" stroke="#45709f" stroke-width="1.6" stroke-linejoin="round" stroke-linecap="round" />
<polyline points="674,638 687,627" fill="none" stroke="#33507a" stroke-width="1.6" stroke-linejoin="round" stroke-linecap="round" />
<circle cx="580.75" cy="675.75" r="2.4" fill="#dd7741"/>
<circle cx="617.5" cy="630" r="2.4" fill="#dd7741"/>
<circle cx="652.5" cy="640" r="2.4" fill="#dd7741"/>
<circle cx="708.25" cy="592" r="2.4" fill="#dd7741"/>
<circle cx="745.4" cy="621.25" r="2.4" fill="#dd7741"/>
<circle cx="779" cy="642.75" r="2.4" fill="#dd7741"/>
<circle cx="819" cy="634" r="2.4" fill="#dd7741"/>
<circle cx="849.25" cy="638.25" r="2.4" fill="#dd7741"/>
<circle cx="885.5" cy="613.75" r="2.4" fill="#dd7741"/>
<circle cx="583.75" cy="675" r="2.4" fill="#45709f"/>
<circle cx="617.5" cy="647" r="2.4" fill="#45709f"/>
<circle cx="652" cy="656.5" r="2.4" fill="#45709f"/>
<circle cx="708.25" cy="608.75" r="2.4" fill="#45709f"/>
<circle cx="744.6" cy="633.25" r="2.4" fill="#45709f"/>
<circle cx="779.25" cy="654.5" r="2.4" fill="#45709f"/>
<circle cx="818.5" cy="641.25" r="2.4" fill="#45709f"/>
<circle cx="850.25" cy="647" r="2.4" fill="#45709f"/>
<circle cx="886" cy="630.75" r="2.4" fill="#45709f"/>
<circle cx="672.5" cy="622.5" r="1.2" fill="#dd7741"/>
<circle cx="677.5" cy="633.5" r="1.6" fill="#33507a"/>
<circle cx="580" cy="676.5" r="2.2" fill="#6d93bd"/>
<text x="535" y="737.7" font-size="9.3" fill="#9a9da3" text-anchor="start" font-weight="normal" textLength="67" lengthAdjust="spacingAndGlyphs">Doausr io cfistt</text>
<line x1="551" y1="753.25" x2="708.5" y2="753.25" stroke="#e8ebf0" stroke-width="1" />
<line x1="551" y1="777" x2="708.5" y2="777" stroke="#e8ebf0" stroke-width="1" />
<line x1="551" y1="801" x2="708.5" y2="801" stroke="#e8ebf0" stroke-width="1" />
<line x1="551" y1="825.25" x2="708.5" y2="825.25" stroke="#e8ebf0" stroke-width="1" />
<line x1="551" y1="849" x2="708.5" y2="849" stroke="#e8ebf0" stroke-width="1" />
<line x1="574.5" y1="752.75" x2="574.5" y2="872" stroke="#e8ebf0" stroke-width="1" />
<line x1="601.5" y1="752.75" x2="601.5" y2="872" stroke="#e8ebf0" stroke-width="1" />
<line x1="628.75" y1="752.75" x2="628.75" y2="872" stroke="#e8ebf0" stroke-width="1" />
<line x1="656.25" y1="752.75" x2="656.25" y2="872" stroke="#e8ebf0" stroke-width="1" />
<line x1="683.25" y1="752.75" x2="683.25" y2="872" stroke="#e8ebf0" stroke-width="1" />
<line x1="707.5" y1="752.75" x2="707.5" y2="872" stroke="#e8ebf0" stroke-width="1" />
<line x1="550.75" y1="752.5" x2="550.75" y2="872.5" stroke="#c6cbd2" stroke-width="1" />
<path d="M559.5,867.25 C561.25,866.97 568.85,865.53 572,865.25 C575.15,864.97 578.85,866.48 582,865.25 C585.15,864.02 590.44,860.03 594.5,856.5 C598.56,852.97 607.50,843.09 611,840 C614.50,836.91 617.12,834.82 619.5,834.4 C621.88,833.98 623.10,834.43 628,837 C632.90,839.57 649.04,851.60 654.5,852.75 C659.96,853.90 663.43,847.00 667,845.25 C670.57,843.50 677.20,842.88 680,840.25 C682.80,837.62 683.15,834.30 687,826.5 C690.85,818.70 704.63,790.38 707.5,784.5" fill="none" stroke="#ffffff" stroke-width="5.5" stroke-linejoin="round" stroke-linecap="round" transform="translate(0,-2)"/>
<path d="M557,872.25 L559.5,867.25 C561.25,866.97 568.85,865.53 572,865.25 C575.15,864.97 578.85,866.48 582,865.25 C585.15,864.02 590.44,860.03 594.5,856.5 C598.56,852.97 607.50,843.09 611,840 C614.50,836.91 617.12,834.82 619.5,834.4 C621.88,833.98 623.10,834.43 628,837 C632.90,839.57 649.04,851.60 654.5,852.75 C659.96,853.90 663.43,847.00 667,845.25 C670.57,843.50 677.20,842.88 680,840.25 C682.80,837.62 683.15,834.30 687,826.5 C690.85,818.70 704.63,790.38 707.5,784.5 L707.5,872.25 Z" fill="#ef6a38" stroke="none" stroke-width="1" stroke-linejoin="round" stroke-linecap="round" />
<line x1="550.5" y1="872.25" x2="711" y2="872.25" stroke="#c6cbd2" stroke-width="1" />
<line x1="577.5" y1="872.25" x2="577.5" y2="875" stroke="#c6cbd2" stroke-width="1" />
<line x1="607.5" y1="872.25" x2="607.5" y2="875" stroke="#c6cbd2" stroke-width="1" />
<line x1="639.5" y1="872.25" x2="639.5" y2="875" stroke="#c6cbd2" stroke-width="1" />
<line x1="668.25" y1="872.25" x2="668.25" y2="875" stroke="#c6cbd2" stroke-width="1" />
<line x1="697.75" y1="872.25" x2="697.75" y2="875" stroke="#c6cbd2" stroke-width="1" />
<polyline points="560.75,864.75 577.75,859 613.25,817.25 656.25,842.25 687,787.25 707,764.75" fill="none" stroke="#3f5c8c" stroke-width="1.5" stroke-linejoin="round" stroke-linecap="round" />
<circle cx="560.75" cy="864.75" r="2.4" fill="#4a6da0"/>
<circle cx="577.75" cy="859" r="2.4" fill="#4a6da0"/>
<circle cx="613.25" cy="817.25" r="2.4" fill="#4a6da0"/>
<circle cx="656.25" cy="842.25" r="2.4" fill="#4a6da0"/>
<circle cx="687" cy="787.25" r="2.4" fill="#4a6da0"/>
<circle cx="707" cy="764.75" r="2.4" fill="#4a6da0"/>
<text x="543.8" y="756.54" font-size="9.2" fill="#6e7278" text-anchor="end" font-weight="normal" >15</text>
<text x="543.8" y="780.29" font-size="9.2" fill="#6e7278" text-anchor="end" font-weight="normal" >30</text>
<text x="543.8" y="805.54" font-size="9.2" fill="#6e7278" text-anchor="end" font-weight="normal" >318</text>
<text x="543.8" y="829.29" font-size="9.2" fill="#6e7278" text-anchor="end" font-weight="normal" >20</text>
<text x="543.8" y="852.79" font-size="9.2" fill="#6e7278" text-anchor="end" font-weight="normal" >40</text>
<text x="543.8" y="875.54" font-size="9.2" fill="#6e7278" text-anchor="end" font-weight="normal" >0</text>
<text x="548.25" y="890.22" font-size="9" fill="#74787e" text-anchor="middle" font-weight="normal" >10</text>
<text x="578.25" y="890.22" font-size="9" fill="#74787e" text-anchor="middle" font-weight="normal" >28</text>
<text x="607.75" y="890.22" font-size="9" fill="#74787e" text-anchor="middle" font-weight="normal" >360</text>
<text x="639" y="890.22" font-size="9" fill="#74787e" text-anchor="middle" font-weight="normal" >256</text>
<text x="668.25" y="890.22" font-size="9" fill="#74787e" text-anchor="middle" font-weight="normal" >396</text>
<text x="699.5" y="890.22" font-size="9" fill="#74787e" text-anchor="middle" font-weight="normal" >250</text>
<rect x="756" y="754.5" width="169.25" height="142.0" rx="6" ry="6" fill="#ffffff" stroke="#d3d6dc" stroke-width="1"/>
<path d="M755.5,773.25 L755.5,760.5 Q755.5,754.0 762,754.0 L919.25,754.0 Q925.75,754.0 925.75,760.5 L925.75,773.25 Z" fill="#324d82"/>
<text x="839.6" y="767" font-size="7.8" fill="#ffffff" text-anchor="middle" font-weight="normal" stroke="#ffffff" stroke-width="0.2" textLength="70" lengthAdjust="spacingAndGlyphs">Rooean Ktaebet Kame</text>
<rect x="765.5" y="781.75" width="19.25" height="3.3" fill="#e8733c" />
<rect x="765.5" y="787.5" width="20.5" height="3.5" fill="#e56a33" />
<rect x="765.5" y="796.75" width="14.25" height="3.5" fill="#3f5f97" />
<rect x="765.5" y="802.75" width="14.25" height="3.5" fill="#3f5f97" />
<rect x="765.5" y="808.25" width="26.0" height="3.5" fill="#3c5b94" />
<rect x="765.5" y="813" width="40.0" height="1.4" fill="#bcd0ef" />
<line x1="786.75" y1="785.5" x2="795.75" y2="785.5" stroke="#f1c3a8" stroke-width="0.8" />
<rect x="821" y="781.75" width="17" height="3.3" fill="#e8733c" />
<rect x="821" y="787.5" width="22" height="3.5" fill="#e56a33" />
<rect x="821" y="796.75" width="17" height="3.5" fill="#3f5f97" />
<rect x="821" y="802.75" width="17.5" height="3.5" fill="#3f5f97" />
<rect x="821" y="808.25" width="28.75" height="3.5" fill="#3c5b94" />
<rect x="821" y="813" width="40" height="1.4" fill="#bcd0ef" />
<line x1="840" y1="785.5" x2="849" y2="785.5" stroke="#f1c3a8" stroke-width="0.8" />
<rect x="877.25" y="781.75" width="17.5" height="3.3" fill="#e8733c" />
<rect x="877.25" y="787.5" width="20.0" height="3.5" fill="#e56a33" />
<rect x="877.25" y="796.75" width="15.0" height="3.5" fill="#3f5f97" />
<rect x="877.25" y="802.75" width="15.75" height="3.5" fill="#3f5f97" />
<rect x="877.25" y="808.25" width="27.5" height="3.5" fill="#3c5b94" />
<rect x="877.25" y="813" width="41.25" height="1.4" fill="#bcd0ef" />
<line x1="896.75" y1="785.5" x2="905.75" y2="785.5" stroke="#f1c3a8" stroke-width="0.8" />
<text x="787.25" y="798.5" font-size="4.3" fill="#6a7890" text-anchor="start" font-weight="normal" textLength="18.5" lengthAdjust="spacingAndGlyphs">fosmclup</text>
<text x="844" y="798.5" font-size="4.3" fill="#6a7890" text-anchor="start" font-weight="normal" textLength="20" lengthAdjust="spacingAndGlyphs">tcrreetuat</text>
<text x="898" y="798.5" font-size="4.3" fill="#6a7890" text-anchor="start" font-weight="normal" textLength="19" lengthAdjust="spacingAndGlyphs">fbscntoo</text>
<text x="790" y="815" font-size="4.0" fill="#7a8596" text-anchor="start" font-weight="normal" textLength="15.5" lengthAdjust="spacingAndGlyphs">oanmtea</text>
<text x="851" y="815" font-size="4.0" fill="#7a8596" text-anchor="start" font-weight="normal" textLength="11" lengthAdjust="spacingAndGlyphs">ohnh</text>
<text x="905" y="815" font-size="4.0" fill="#7a8596" text-anchor="start" font-weight="normal" textLength="13" lengthAdjust="spacingAndGlyphs">ouata</text>
<text x="765.5" y="820" font-size="4.6" fill="#7d828a" text-anchor="start" font-weight="normal" textLength="17.5" lengthAdjust="spacingAndGlyphs">Bunaetd</text>
<text x="821" y="820" font-size="4.6" fill="#7d828a" text-anchor="start" font-weight="normal" textLength="16" lengthAdjust="spacingAndGlyphs">Bcnaen</text>
<text x="884" y="820.5" font-size="4.0" fill="#7a8596" text-anchor="start" font-weight="normal" >- eae</text>
<line x1="765" y1="831.5" x2="921" y2="831.5" stroke="#f0f2f5" stroke-width="1" />
<line x1="765" y1="847.1" x2="921" y2="847.1" stroke="#f0f2f5" stroke-width="1" />
<line x1="765" y1="863.3" x2="921" y2="863.3" stroke="#f0f2f5" stroke-width="1" />
<rect x="766.5" y="853.75" width="4.0" height="35.25" fill="#3f5f97" />
<rect x="773.5" y="824.5" width="4.5" height="64.5" fill="#3b5a93" />
<rect x="780" y="859.25" width="4.75" height="29.75" fill="#c9663f" />
<rect x="786.25" y="835.75" width="4.25" height="53.25" fill="#e8703a" />
<rect x="791.5" y="880" width="3.75" height="9" fill="#a9664e" />
<rect x="797.25" y="870.75" width="4.25" height="18.25" fill="#e4693a" />
<rect x="806" y="885" width="3" height="4" fill="#dfe3ea" />
<rect x="815.5" y="872" width="4.5" height="17" fill="#3f5f97" />
<rect x="822.75" y="859.5" width="5.0" height="29.5" fill="#46679f" />
<rect x="830.25" y="850" width="5.0" height="39" fill="#3b5a93" />
<rect x="838.5" y="826.75" width="4.5" height="62.25" fill="#e66d3c" />
<rect x="844.75" y="873" width="4.25" height="16" fill="#c26b4a" />
<rect x="850.5" y="860" width="5.0" height="29" fill="#e8703a" />
<rect x="857.5" y="870" width="6.0" height="19" fill="#eef2fa" />
<rect x="865.25" y="871.75" width="4.5" height="17.25" fill="#3f5f97" />
<rect x="872.25" y="856.5" width="4.5" height="32.5" fill="#41629b" />
<rect x="878.75" y="819.5" width="4.75" height="69.5" fill="#3b5a93" />
<rect x="886" y="863.75" width="3.25" height="25.25" fill="#d08058" />
<rect x="889.25" y="851.25" width="4.25" height="37.75" fill="#e8703a" />
<rect x="894.75" y="870" width="5.0" height="19" fill="#e66d3c" />
<rect x="901" y="881.25" width="4.25" height="7.75" fill="#a9705a" />
<rect x="908.5" y="886.75" width="4.5" height="2.25" fill="#2f7f8f" />
</svg>
</body>
</html>
